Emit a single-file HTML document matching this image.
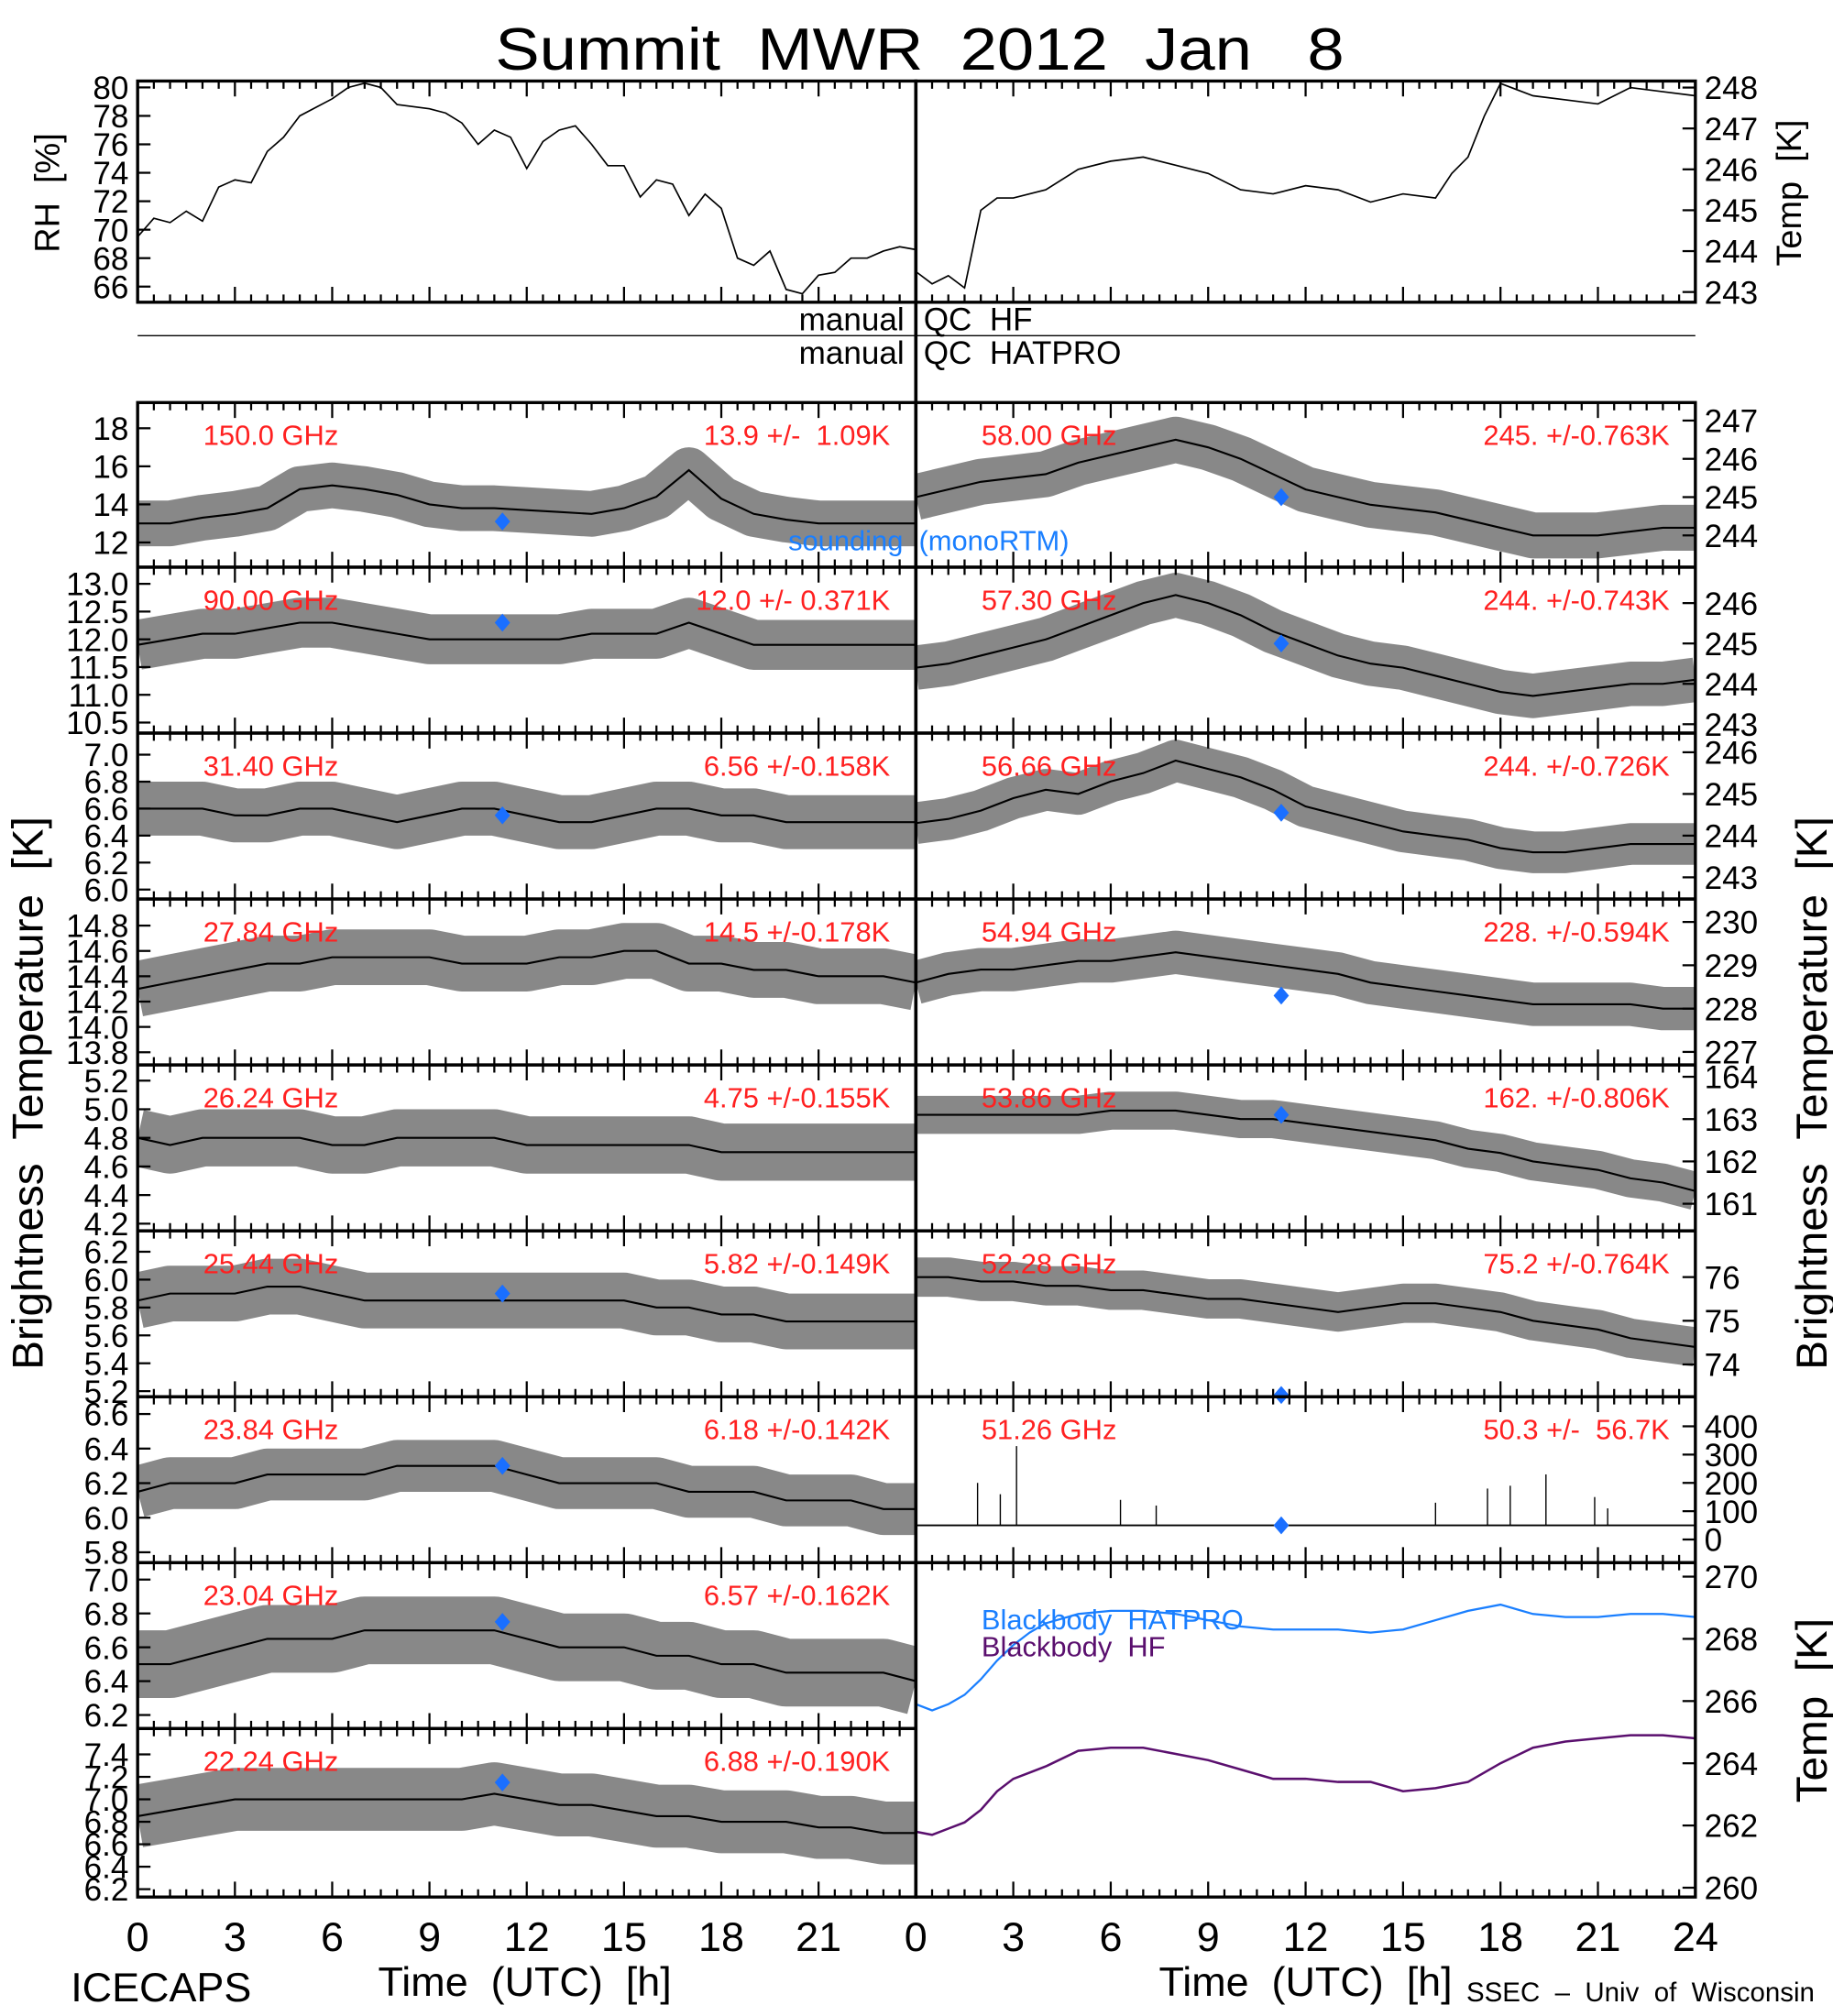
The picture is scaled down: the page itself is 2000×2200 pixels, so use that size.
<!DOCTYPE html>
<html><head><meta charset="utf-8"><style>
html,body{margin:0;padding:0;background:#fff;}
svg{display:block;}
text{font-family:"Liberation Sans",sans-serif;white-space:pre;}
</style></head><body>
<svg id="chart" width="2000" height="2200" viewBox="0 0 1425 1567.5" preserveAspectRatio="none" xmlns="http://www.w3.org/2000/svg"></svg>
<script>
const hours = [0,1,2,3,4,5,6,7,8,9,10,11,12,13,14,15,16,17,18,19,20,21,22,23,24];
const rhHours = [0,0.5,1,1.5,2,2.5,3,3.5,4,4.5,5,5.5,6,6.5,7,7.5,8,9,9.5,10,10.5,11,11.5,12,12.5,13,13.5,14,14.5,15,15.5,16,16.5,17,17.5,18,18.5,19,19.5,20,20.5,21,21.5,22,22.5,23,23.5,24];
const rhValues = [69.5,70.8,70.5,71.3,70.6,73,73.5,73.3,75.5,76.5,78,78.6,79.2,80,80.3,80,78.8,78.5,78.2,77.5,76,77,76.5,74.3,76.2,77,77.3,76,74.5,74.5,72.3,73.5,73.2,71,72.5,71.5,68,67.5,68.5,65.8,65.5,66.8,67,68,68,68.5,68.8,68.6];
const tempHours = [0,0.5,1,1.5,2,2.5,3,4,5,6,7,8,9,10,11,12,13,14,15,16,16.5,17,17.5,18,19,20,21,22,23,24];
const tempValues = [243.5,243.2,243.4,243.1,245,245.3,245.3,245.5,246,246.2,246.3,246.1,245.9,245.5,245.4,245.6,245.5,245.2,245.4,245.3,245.9,246.3,247.3,248.1,247.8,247.7,247.6,248,247.9,247.8];

const ch150 = [13,13,13.3,13.5,13.8,14.8,15,14.8,14.5,14,13.8,13.8,13.7,13.6,13.5,13.8,14.4,15.8,14.3,13.5,13.2,13,13,13,13];
const ch90 = [11.9,12,12.1,12.1,12.2,12.3,12.3,12.2,12.1,12,12,12,12,12,12.1,12.1,12.1,12.3,12.1,11.9,11.9,11.9,11.9,11.9,11.9];
const ch3140 = [6.6,6.6,6.6,6.55,6.55,6.6,6.6,6.55,6.5,6.55,6.6,6.6,6.55,6.5,6.5,6.55,6.6,6.6,6.55,6.55,6.5,6.5,6.5,6.5,6.5];
const ch2784 = [14.3,14.35,14.4,14.45,14.5,14.5,14.55,14.55,14.55,14.55,14.5,14.5,14.5,14.55,14.55,14.6,14.6,14.5,14.5,14.45,14.45,14.4,14.4,14.4,14.35];
const ch2624 = [4.8,4.75,4.8,4.8,4.8,4.8,4.75,4.75,4.8,4.8,4.8,4.8,4.75,4.75,4.75,4.75,4.75,4.75,4.7,4.7,4.7,4.7,4.7,4.7,4.7];
const ch2544 = [5.85,5.9,5.9,5.9,5.95,5.95,5.9,5.85,5.85,5.85,5.85,5.85,5.85,5.85,5.85,5.85,5.8,5.8,5.75,5.75,5.7,5.7,5.7,5.7,5.7];
const ch2384 = [6.15,6.2,6.2,6.2,6.25,6.25,6.25,6.25,6.3,6.3,6.3,6.3,6.25,6.2,6.2,6.2,6.2,6.15,6.15,6.15,6.1,6.1,6.1,6.05,6.05];
const ch2304 = [6.5,6.5,6.55,6.6,6.65,6.65,6.65,6.7,6.7,6.7,6.7,6.7,6.65,6.6,6.6,6.6,6.55,6.55,6.5,6.5,6.45,6.45,6.45,6.45,6.4];
const ch2224 = [6.85,6.9,6.95,7,7,7,7,7,7,7,7,7.05,7,6.95,6.95,6.9,6.85,6.85,6.8,6.8,6.8,6.75,6.75,6.7,6.7];
const ch5800 = [245,245.2,245.4,245.5,245.6,245.9,246.1,246.3,246.5,246.3,246,245.6,245.2,245,244.8,244.7,244.6,244.4,244.2,244,244,244,244.1,244.2,244.2];
const ch5730 = [244.4,244.5,244.7,244.9,245.1,245.4,245.7,246,246.2,246,245.7,245.3,245,244.7,244.5,244.4,244.2,244,243.8,243.7,243.8,243.9,244,244,244.1];
const ch5666 = [244.3,244.4,244.6,244.9,245.1,245,245.3,245.5,245.8,245.6,245.4,245.1,244.7,244.5,244.3,244.1,244,243.9,243.7,243.6,243.6,243.7,243.8,243.8,243.8];
const ch5494 = [228.6,228.8,228.9,228.9,229,229.1,229.1,229.2,229.3,229.2,229.1,229,228.9,228.8,228.6,228.5,228.4,228.3,228.2,228.1,228.1,228.1,228.1,228,228];
const ch5386 = [163.1,163.1,163.1,163.1,163.1,163.1,163.2,163.2,163.2,163.1,163,163,162.9,162.8,162.7,162.6,162.5,162.3,162.2,162,161.9,161.8,161.6,161.5,161.3];
const ch5228 = [76,76,75.9,75.9,75.8,75.8,75.7,75.7,75.6,75.5,75.5,75.4,75.3,75.2,75.3,75.4,75.4,75.3,75.2,75,74.9,74.8,74.6,74.5,74.4];
const ch5126 = [50,50,50,50,50,50,50,50,50,50,50,50,50,50,50,50,50,50,50,50,50,50,50,50,50];
const spikeHours = [1.9,2.6,3.1,6.3,7.4,16.0,17.6,18.3,19.4,20.9,21.3];
const spikeValues = [200,160,330,140,120,130,180,190,230,150,110];

const bbHours = [0,0.5,1,1.5,2,2.5,3,3.5,4,5,6,7,8,9,10,11,12,13,14,15,16,17,18,19,20,21,22,23,24];
const bbHatpro = [265.9,265.7,265.9,266.2,266.7,267.3,267.8,268.2,268.5,268.8,268.9,268.9,268.8,268.6,268.4,268.3,268.3,268.3,268.2,268.3,268.6,268.9,269.1,268.8,268.7,268.7,268.8,268.8,268.7];
const bbHF = [261.8,261.7,261.9,262.1,262.5,263.1,263.5,263.7,263.9,264.4,264.5,264.5,264.3,264.1,263.8,263.5,263.5,263.4,263.4,263.1,263.2,263.4,264,264.5,264.7,264.8,264.9,264.9,264.8];

const leftFreqs = ["150.0 GHz","90.00 GHz","31.40 GHz","27.84 GHz","26.24 GHz","25.44 GHz","23.84 GHz","23.04 GHz","22.24 GHz"];
const leftStats = ["13.9 +/-  1.09K","12.0 +/- 0.371K","6.56 +/-0.158K","14.5 +/-0.178K","4.75 +/-0.155K","5.82 +/-0.149K","6.18 +/-0.142K","6.57 +/-0.162K","6.88 +/-0.190K"];
const rightFreqs = ["58.00 GHz","57.30 GHz","56.66 GHz","54.94 GHz","53.86 GHz","52.28 GHz","51.26 GHz"];
const rightStats = ["245. +/-0.763K","244. +/-0.743K","244. +/-0.726K","228. +/-0.594K","162. +/-0.806K","75.2 +/-0.764K","50.3 +/-  56.7K"];
const soundLeft = [13.1,12.3,6.55,null,null,5.9,6.3,6.75,7.15];
const soundRight = [245,245,244.55,228.3,163.1,73.3,50];
const soundHour = 11.25;

const leftTicks = [["12","14","16","18"],["10.5","11.0","11.5","12.0","12.5","13.0"],["6.0","6.2","6.4","6.6","6.8","7.0"],["13.8","14.0","14.2","14.4","14.6","14.8"],["4.2","4.4","4.6","4.8","5.0","5.2"],["5.2","5.4","5.6","5.8","6.0","6.2"],["5.8","6.0","6.2","6.4","6.6"],["6.2","6.4","6.6","6.8","7.0"],["6.2","6.4","6.6","6.8","7.0","7.2","7.4"]];
const rightTicks = [["244","245","246","247"],["243","244","245","246"],["243","244","245","246"],["227","228","229","230"],["161","162","163","164"],["74","75","76"],["0","100","200","300","400"]];
const bbTicks = ["260","262","264","266","268","270"];
const rhTicks = ["66","68","70","72","74","76","78","80"];
const tTicks = ["243","244","245","246","247","248"];
const xTickLabelsL = ["0","3","6","9","12","15","18","21"];
const xTickLabelsR = ["0","3","6","9","12","15","18","21","24"];

const leftSeries = [ch150,ch90,ch3140,ch2784,ch2624,ch2544,ch2384,ch2304,ch2224];
const rightSeries = [ch5800,ch5730,ch5666,ch5494,ch5386,ch5228,ch5126];
const leftDomains = [[10.7,19.35],[10.31,13.3],[5.93,7.16],[13.7,15.01],[4.15,5.31],[5.16,6.35],[5.74,6.70],[6.12,7.10],[6.13,7.63]];
const rightDomains = [[243.17,247.47],[242.78,246.89],[242.48,246.46],[226.7,230.53],[160.36,164.28],[73.26,77.06],[-81.8,504.5]];
const leftBand = [1.2,0.45,0.2,0.22,0.2,0.2,0.15,0.2,0.28];
const rightBand = [0.6,0.55,0.5,0.5,0.45,0.45,0];
const rowTops = [313,441,570,699,828,957,1086,1215,1344,1475];

const NS = "http://www.w3.org/2000/svg";
const svg = document.getElementById("chart");
function mk(tag, attrs, parent){const e=document.createElementNS(NS,tag);for(const k in attrs)e.setAttribute(k,attrs[k]);(parent||svg).appendChild(e);return e;}
function txt(s, attrs, parent){const e=mk("text",attrs,parent);e.textContent=s;return e;}
const LX0=107, LX1=712, RX0=712, RX1=1318;
function xScale(x0,x1){return h=>x0+(x1-x0)*h/24;}
function yScale(d,top,bot){return v=>bot-(v-d[0])/(d[1]-d[0])*(bot-top);}
function pathFrom(xs,ys,sx,sy){return xs.map((h,i)=>(i?"L":"M")+sx(h).toFixed(2)+","+sy(ys[i]).toFixed(2)).join("");}
function xticks(x0,x1,top,bot,g){let d="";for(let k=0;k<=48;k++){const x=x0+(x1-x0)*k/48;const L=(k%6===0)?12:6;d+=`M${x},${top}v${L}M${x},${bot}v${-L}`;}const p=mk("path",{d:d,stroke:"#000","stroke-width":1.6,fill:"none"},g);}
function frame(x0,y0,x1,y1,g){const r=mk("rect",{x:x0,y:y0,width:x1-x0,height:y1-y0,fill:"none",stroke:"#000","stroke-width":2.4},g);}

const title = txt("Summit  MWR  2012  Jan   8",{x:715,y:54,"text-anchor":"middle","font-size":46,textLength:660,lengthAdjust:"spacingAndGlyphs"});



const gTop = mk("g",{});


{
  const sx=xScale(LX0,LX1), sy=yScale([64.9,80.45],63,235);
  const p=mk("path",{d:pathFrom(rhHours,rhValues,sx,sy),fill:"none",stroke:"#000","stroke-width":1.2},gTop);
  
  
  xticks(LX0,LX1,63,235,gTop); frame(LX0,63,LX1,235,gTop);
  rhTicks.forEach(t=>{const y=sy(+t);const l=txt(t,{x:100,y:y+9,"text-anchor":"end","font-size":25},gTop);
    
    
    mk("line",{x1:LX0,x2:LX0+10,y1:y,y2:y,stroke:"#000","stroke-width":1.6},gTop);});
  const t=txt("RH  [%]",{x:0,y:0,"text-anchor":"middle","font-size":27,transform:"translate(46,150) rotate(-90)"},gTop);
  
  
  const sx2=xScale(RX0,RX1), sy2=yScale([242.75,248.16],63,235);
  const p2=mk("path",{d:pathFrom(tempHours,tempValues,sx2,sy2),fill:"none",stroke:"#000","stroke-width":1.2},gTop);
  
  
  xticks(RX0,RX1,63,235,gTop); frame(RX0,63,RX1,235,gTop);
  tTicks.forEach(t=>{const y=sy2(+t);const l=txt(t,{x:1325,y:y+9,"font-size":25},gTop);
    
    
    mk("line",{x1:RX1-10,x2:RX1,y1:y,y2:y,stroke:"#000","stroke-width":1.6},gTop);});
  const t2=txt("Temp  [K]",{x:0,y:0,"text-anchor":"middle","font-size":27,transform:"translate(1400,150) rotate(-90)"},gTop);
  
  
}
const qc1=txt("manual",{x:703,y:257,"text-anchor":"end","font-size":25});


const qc2=txt("QC  HF",{x:718,y:257,"font-size":25});


const qcl=mk("line",{x1:107,x2:1318,y1:261,y2:261,stroke:"#000","stroke-width":1});


const qc3=txt("manual",{x:703,y:283,"text-anchor":"end","font-size":25});


const qc4=txt("QC  HATPRO",{x:718,y:283,"font-size":25});



function channelPanel(x0,x1,top,bot,series,dom,band,ticks,freq,stat,snd,side){
  const g=mk("g",{});
  
  
  const sx=xScale(x0,x1), sy=yScale(dom,top,bot);
  const cp=mk("clipPath",{id:"c"+top+"_"+x0},g);
  mk("rect",{x:x0,y:top,width:x1-x0,height:bot-top},cp);
  const pxPer=(bot-top)/(dom[1]-dom[0]);
  if(band>0){
    const b=mk("path",{d:pathFrom(hours,series,sx,sy),fill:"none",stroke:"#111","stroke-opacity":0.5,"stroke-width":2*band*pxPer,"stroke-linejoin":"round","clip-path":`url(#c${top}_${x0})`},g);
    
    
    const c=mk("path",{d:pathFrom(hours,series,sx,sy),fill:"none",stroke:"#000","stroke-width":1.5,"clip-path":`url(#c${top}_${x0})`},g);
    
    
  } else {
    const c=mk("path",{d:pathFrom(hours,series,sx,sy),fill:"none",stroke:"#000","stroke-width":1.3},g);
    
    
    spikeHours.forEach((h,i)=>{const s=mk("line",{x1:sx(h),x2:sx(h),y1:sy(series[0]),y2:sy(spikeValues[i]),stroke:"#000","stroke-width":1},g);
      
      });
  }
  if(snd!==null){const x=sx(soundHour),y=sy(snd);const d=mk("path",{d:`M${x},${y-7}L${x+6},${y}L${x},${y+7}L${x-6},${y}Z`,fill:"#1a6fff"},g);
    
    }
  xticks(x0,x1,top,bot,g); frame(x0,top,x1,bot,g);
  ticks.forEach(t=>{const y=sy(+t);
    const l=side==="L"?txt(t,{x:100,y:y+9,"text-anchor":"end","font-size":25},g):txt(t,{x:1325,y:y+9,"font-size":25},g);
    
    
    if(side==="L")mk("line",{x1:x0,x2:x0+10,y1:y,y2:y,stroke:"#000","stroke-width":1.6},g);
    else mk("line",{x1:x1-10,x2:x1,y1:y,y2:y,stroke:"#000","stroke-width":1.6},g);});
  const fl=txt(freq,{x:x0+51,y:top+33,"font-size":22,fill:"#ff2020"},g);
  
  
  const sl=txt(stat,{x:x1-20,y:top+33,"text-anchor":"end","font-size":22,fill:"#ff2020"},g);
  
  
}
for(let i=0;i<9;i++) channelPanel(LX0,LX1,rowTops[i],rowTops[i+1],leftSeries[i],leftDomains[i],leftBand[i],leftTicks[i],leftFreqs[i],leftStats[i],soundLeft[i],"L");
for(let i=0;i<7;i++) channelPanel(RX0,RX1,rowTops[i],rowTops[i+1],rightSeries[i],rightDomains[i],rightBand[i],rightTicks[i],rightFreqs[i],rightStats[i],soundRight[i],"R");

{
  const g=mk("g",{});
  
  
  const top=1215,bot=1475, sx=xScale(RX0,RX1), sy=yScale([259.7,270.45],top,bot);
  const a=mk("path",{d:pathFrom(bbHours,bbHatpro,sx,sy),fill:"none",stroke:"#1a7fff","stroke-width":1.6},g);
  
  
  const b=mk("path",{d:pathFrom(bbHours,bbHF,sx,sy),fill:"none",stroke:"#5a0f6e","stroke-width":1.8},g);
  
  
  xticks(RX0,RX1,top,bot,g); frame(RX0,top,RX1,bot,g);
  bbTicks.forEach(t=>{const y=sy(+t);const l=txt(t,{x:1325,y:y+9,"font-size":25},g);
    
    
    mk("line",{x1:RX1-10,x2:RX1,y1:y,y2:y,stroke:"#000","stroke-width":1.6},g);});
  const l1=txt("Blackbody  HATPRO",{x:763,y:1267,"font-size":22,fill:"#1a7fff"},g);
  
  
  const l2=txt("Blackbody  HF",{x:763,y:1288,"font-size":22,fill:"#5a0f6e"},g);
  
  
  const t=txt("Temp  [K]",{x:0,y:0,"text-anchor":"middle","font-size":34,transform:"translate(1420,1330) rotate(-90)"},g);
  
  
}
const snd=txt("sounding  (monoRTM)",{x:722,y:428,"text-anchor":"middle","font-size":22,fill:"#1a7fff"});


const mid=mk("line",{x1:712,x2:712,y1:63,y2:1475,stroke:"#000","stroke-width":2.6});



const bl=txt("Brightness  Temperature  [K]",{x:0,y:0,"text-anchor":"middle","font-size":34,transform:"translate(33,850) rotate(-90)"});


const br=txt("Brightness  Temperature  [K]",{x:0,y:0,"text-anchor":"middle","font-size":34,transform:"translate(1420,850) rotate(-90)"});


xTickLabelsL.forEach(t=>{const l=txt(t,{x:xScale(LX0,LX1)(+t),y:1517,"text-anchor":"middle","font-size":32});
  
  });
xTickLabelsR.forEach(t=>{const l=txt(t,{x:xScale(RX0,RX1)(+t),y:1517,"text-anchor":"middle","font-size":32});
  
  });
const xl=txt("Time  (UTC)  [h]",{x:408,y:1552,"text-anchor":"middle","font-size":32});


const xr=txt("Time  (UTC)  [h]",{x:1015,y:1552,"text-anchor":"middle","font-size":32});


const ic=txt("ICECAPS",{x:55,y:1556,"font-size":32});


const ss=txt("SSEC  –  Univ  of  Wisconsin",{x:1140,y:1556,"font-size":21});


</script>
</body></html>
